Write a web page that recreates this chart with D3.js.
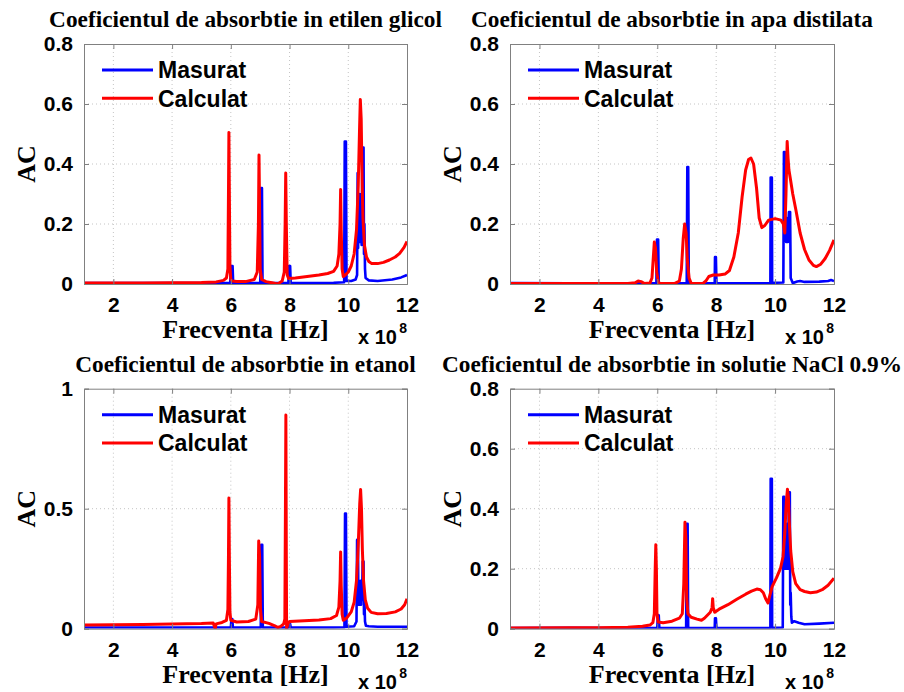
<!DOCTYPE html>
<html><head><meta charset="utf-8">
<script src="https://cdn.jsdelivr.net/npm/d3@7"></script>
<style>html,body{margin:0;padding:0;background:#fff;}svg{display:block;}</style>
</head><body>
<svg id="chart" width="904" height="692"></svg>
<script>
// ---------- DATA (frequency in units of 1e8 Hz, AC value) ----------
const titles = [
  "Coeficientul de absorbtie in etilen glicol",
  "Coeficientul de absorbtie in apa distilata",
  "Coeficientul de absorbtie in etanol",
  "Coeficientul de absorbtie in solutie NaCl 0.9%"
];
const seriesNames = ["Masurat", "Calculat"];
const xTicks = [2, 4, 6, 8, 10, 12];
const yTicksA = [0, 0.2, 0.4, 0.6, 0.8];
const yTicksB = [0, 0.5, 1];
const yMaxes = [0.8, 0.8, 1, 0.8];

const etilenMasurat = [[1,0.003],[3,0.003],[5,0.003],[5.98,0.003],[6.0,0.06],[6.06,0.06],[6.08,0.003],[7.0,0.003],[7.02,0.06],[7.04,0.32],[7.06,0.32],[7.08,0.003],[7.96,0.003],[7.98,0.06],[8.02,0.06],[8.04,0.003],[9.0,0.003],[9.5,0.004],[9.86,0.006],[9.88,0.475],[9.92,0.475],[9.94,0.01],[10.1,0.01],[10.25,0.015],[10.3,0.03],[10.32,0.37],[10.335,0.12],[10.35,0.25],[10.365,0.15],[10.38,0.3],[10.395,0.14],[10.41,0.28],[10.425,0.15],[10.44,0.3],[10.455,0.13],[10.47,0.3],[10.49,0.455],[10.52,0.455],[10.535,0.1],[10.55,0.2],[10.57,0.05],[10.59,0.02],[10.7,0.012],[11,0.01],[11.5,0.015],[11.8,0.022],[12,0.03]];
const etilenCalculat = [[1,0.003],[2,0.003],[3,0.003],[4,0.004],[5,0.005],[5.5,0.007],[5.75,0.012],[5.85,0.02],[5.9,0.05],[5.92,0.3],[5.935,0.505],[5.95,0.3],[5.97,0.06],[6.0,0.015],[6.05,0.01],[6.2,0.008],[6.5,0.008],[6.8,0.015],[6.9,0.04],[6.94,0.2],[6.96,0.43],[6.98,0.25],[7.0,0.05],[7.05,0.015],[7.2,0.008],[7.4,0.004],[7.6,0.0],[7.75,0.01],[7.82,0.04],[7.85,0.2],[7.87,0.37],[7.89,0.2],[7.92,0.03],[7.97,0.018],[8.2,0.02],[8.6,0.025],[9.0,0.03],[9.3,0.035],[9.5,0.042],[9.62,0.06],[9.68,0.1],[9.72,0.2],[9.74,0.315],[9.76,0.18],[9.79,0.05],[9.83,0.025],[9.9,0.03],[10.0,0.04],[10.1,0.06],[10.2,0.1],[10.28,0.18],[10.34,0.33],[10.38,0.5],[10.41,0.615],[10.44,0.55],[10.47,0.35],[10.5,0.22],[10.55,0.13],[10.62,0.09],[10.7,0.075],[10.8,0.068],[11.0,0.068],[11.2,0.072],[11.4,0.08],[11.6,0.09],[11.75,0.102],[11.9,0.122],[12,0.142]];

const apaMasurat = [[1,0.003],[3,0.002],[5,0.002],[5.97,0.002],[5.99,0.148],[6.03,0.148],[6.05,0.002],[7.0,0.002],[7.02,0.39],[7.05,0.39],[7.07,0.002],[7.95,0.002],[7.96,0.09],[7.99,0.09],[8.01,0.002],[9.0,0.002],[9.84,0.003],[9.85,0.355],[9.89,0.355],[9.9,0.004],[10.28,0.005],[10.3,0.44],[10.33,0.44],[10.345,0.15],[10.36,0.22],[10.375,0.14],[10.39,0.22],[10.405,0.15],[10.42,0.22],[10.435,0.14],[10.45,0.2],[10.47,0.24],[10.51,0.24],[10.53,0.02],[10.6,0.003],[10.75,0.008],[10.85,0.01],[11.0,0.007],[11.5,0.008],[11.8,0.01],[11.9,0.013],[12,0.01]];
const apaCalculat = [[1,0.002],[3,0.002],[5,0.002],[5.25,0.004],[5.35,0.01],[5.45,0.008],[5.55,0.002],[5.75,0.003],[5.82,0.02],[5.86,0.08],[5.9,0.14],[5.94,0.12],[5.98,0.04],[6.04,0.005],[6.1,0.002],[6.6,0.002],[6.75,0.01],[6.82,0.05],[6.88,0.15],[6.93,0.2],[6.98,0.17],[7.02,0.08],[7.08,0.02],[7.15,0.002],[7.55,0.002],[7.65,0.01],[7.75,0.025],[7.9,0.03],[8.1,0.03],[8.3,0.033],[8.45,0.045],[8.6,0.09],[8.75,0.17],[8.88,0.29],[9.0,0.38],[9.1,0.415],[9.18,0.42],[9.27,0.4],[9.37,0.32],[9.46,0.22],[9.55,0.188],[9.65,0.195],[9.78,0.213],[10.0,0.218],[10.2,0.213],[10.28,0.2],[10.33,0.17],[10.37,0.3],[10.41,0.475],[10.44,0.42],[10.47,0.38],[10.52,0.35],[10.6,0.3],[10.7,0.25],[10.85,0.17],[11.0,0.115],[11.15,0.08],[11.3,0.062],[11.4,0.058],[11.55,0.066],[11.7,0.085],[11.85,0.112],[12,0.147]];

const etanolMasurat = [[1,0.005],[3,0.005],[5,0.005],[6.0,0.005],[6.02,0.04],[6.05,0.04],[6.07,0.005],[7.02,0.005],[7.04,0.35],[7.07,0.35],[7.09,0.005],[7.97,0.005],[7.99,0.02],[8.02,0.02],[8.04,0.005],[9.5,0.005],[9.87,0.006],[9.89,0.48],[9.92,0.48],[9.94,0.008],[10.2,0.01],[10.28,0.03],[10.3,0.37],[10.33,0.37],[10.345,0.1],[10.36,0.2],[10.375,0.1],[10.39,0.18],[10.405,0.1],[10.42,0.2],[10.435,0.1],[10.45,0.2],[10.47,0.12],[10.49,0.28],[10.52,0.28],[10.535,0.06],[10.55,0.12],[10.57,0.03],[10.6,0.012],[10.7,0.01],[11,0.008],[12,0.008]];
const etanolCalculat = [[1,0.015],[2,0.016],[3,0.018],[4,0.02],[5,0.022],[5.4,0.024],[5.44,0.01],[5.47,0.0],[5.5,0.02],[5.7,0.026],[5.85,0.035],[5.9,0.08],[5.92,0.3],[5.935,0.545],[5.95,0.3],[5.97,0.07],[6.0,0.035],[6.2,0.028],[6.6,0.03],[6.85,0.04],[6.92,0.1],[6.95,0.365],[6.98,0.3],[7.01,0.08],[7.05,0.03],[7.3,0.022],[7.5,0.012],[7.6,0.005],[7.7,0.01],[7.8,0.02],[7.84,0.04],[7.86,0.5],[7.875,0.89],[7.89,0.3],[7.9,0.0],[7.94,0.02],[8.0,0.03],[8.5,0.033],[9.0,0.036],[9.4,0.042],[9.6,0.055],[9.68,0.09],[9.72,0.2],[9.74,0.32],[9.76,0.18],[9.79,0.06],[9.83,0.035],[9.95,0.045],[10.1,0.07],[10.2,0.11],[10.28,0.2],[10.34,0.35],[10.39,0.52],[10.42,0.58],[10.45,0.5],[10.48,0.33],[10.52,0.2],[10.58,0.12],[10.66,0.085],[10.78,0.068],[11.0,0.062],[11.3,0.063],[11.6,0.07],[11.8,0.082],[11.92,0.1],[12,0.125]];

const naclMasurat = [[1,0.002],[3,0.003],[5,0.002],[6.0,0.002],[6.02,0.045],[6.05,0.045],[6.07,0.002],[6.98,0.002],[7.0,0.35],[7.03,0.35],[7.05,0.002],[7.95,0.002],[7.96,0.035],[7.99,0.035],[8.01,0.002],[9.5,0.002],[9.84,0.003],[9.85,0.5],[9.89,0.5],[9.9,0.003],[10.26,0.004],[10.28,0.44],[10.31,0.44],[10.325,0.2],[10.34,0.3],[10.355,0.2],[10.37,0.32],[10.385,0.2],[10.4,0.35],[10.415,0.22],[10.43,0.3],[10.445,0.2],[10.47,0.455],[10.5,0.455],[10.515,0.08],[10.53,0.12],[10.55,0.04],[10.57,0.02],[10.65,0.025],[10.8,0.02],[11,0.015],[11.5,0.017],[12,0.02]];
const naclCalculat = [[1,0.002],[3,0.003],[4,0.003],[5,0.005],[5.5,0.008],[5.75,0.012],[5.85,0.02],[5.9,0.05],[5.93,0.2],[5.95,0.28],[5.97,0.2],[5.99,0.05],[6.03,0.022],[6.2,0.02],[6.5,0.025],[6.75,0.035],[6.85,0.05],[6.9,0.15],[6.94,0.355],[6.97,0.3],[7.0,0.1],[7.04,0.05],[7.15,0.038],[7.35,0.032],[7.5,0.028],[7.6,0.035],[7.7,0.045],[7.8,0.055],[7.86,0.07],[7.88,0.1],[7.9,0.07],[7.95,0.055],[8.1,0.065],[8.4,0.08],[8.7,0.098],[9.0,0.115],[9.2,0.125],[9.38,0.132],[9.5,0.13],[9.6,0.12],[9.68,0.1],[9.76,0.086],[9.82,0.11],[9.9,0.14],[10.05,0.17],[10.18,0.2],[10.27,0.24],[10.33,0.32],[10.38,0.42],[10.42,0.465],[10.45,0.44],[10.48,0.36],[10.53,0.26],[10.6,0.19],[10.7,0.15],[10.85,0.13],[11.0,0.124],[11.2,0.12],[11.4,0.122],[11.6,0.13],[11.8,0.145],[12,0.168]];

// ---------- LAYOUT ----------
const panels = [
  {title: titles[0], meas: etilenMasurat, calc: etilenCalculat, yMax: yMaxes[0], yTicks: yTicksA, x0: 84,  x1: 407, y0: 44,    y1: 284},
  {title: titles[1], meas: apaMasurat,    calc: apaCalculat,    yMax: yMaxes[1], yTicks: yTicksA, x0: 510, x1: 834, y0: 44,    y1: 284},
  {title: titles[2], meas: etanolMasurat, calc: etanolCalculat, yMax: yMaxes[2], yTicks: yTicksB, x0: 84,  x1: 407, y0: 388.7, y1: 628.7},
  {title: titles[3], meas: naclMasurat,   calc: naclCalculat,   yMax: yMaxes[3], yTicks: yTicksA, x0: 510, x1: 834, y0: 388.7, y1: 628.7}
];
const colors = ["#0000ff", "#ff0000"];
const serif = "'Liberation Serif', 'Times New Roman', serif";
const sans = "'Liberation Sans', Arial, sans-serif";
const axisColor = "#808080";

const svg = d3.select("#chart");

panels.forEach((p, i) => {
  const x = d3.scaleLinear().domain([1, 12]).range([p.x0, p.x1]);
  const y = d3.scaleLinear().domain([0, p.yMax]).range([p.y1, p.y0]);
  const g = svg.append("g");
  const w = p.x1 - p.x0, h = p.y1 - p.y0;

  // grid
  g.append("g").selectAll("line").data(xTicks.slice(0, -1)).join("line")
    .attr("x1", d => x(d)).attr("x2", d => x(d)).attr("y1", p.y0).attr("y2", p.y1)
    .attr("stroke", "#c4c4c4").attr("stroke-width", 1).attr("stroke-dasharray", "1,3");
  g.append("g").selectAll("line").data(p.yTicks.slice(1, -1)).join("line")
    .attr("x1", p.x0).attr("x2", p.x1).attr("y1", d => y(d)).attr("y2", d => y(d))
    .attr("stroke", "#c4c4c4").attr("stroke-width", 1).attr("stroke-dasharray", "1,3");

  // clip
  const clipId = "clip" + i;
  svg.append("clipPath").attr("id", clipId).append("rect")
    .attr("x", p.x0).attr("y", p.y0 - 2).attr("width", w).attr("height", h + 2);

  const line = d3.line().x(d => x(d[0])).y(d => y(d[1]));
  g.append("path").datum(p.meas).attr("d", line).attr("fill", "none")
    .attr("stroke", colors[0]).attr("stroke-width", 2.6).attr("stroke-linejoin", "round")
    .attr("clip-path", `url(#${clipId})`);
  g.append("path").datum(p.calc).attr("d", line).attr("fill", "none")
    .attr("stroke", colors[1]).attr("stroke-width", 3).attr("stroke-linejoin", "round")
    .attr("clip-path", `url(#${clipId})`);

  // axes (inward ticks on all sides)
  const fmt = d => d3.format("~g")(d);
  const ax = [
    d3.axisBottom(x).tickValues(xTicks).tickSize(-5).tickPadding(13).tickFormat(d3.format("d")),
    d3.axisTop(x).tickValues(xTicks).tickSize(-5).tickFormat(""),
    d3.axisLeft(y).tickValues(p.yTicks).tickSize(-5).tickPadding(11).tickFormat(fmt),
    d3.axisRight(y).tickValues(p.yTicks).tickSize(-5).tickFormat("")
  ];
  const tr = [`translate(0,${p.y1})`, `translate(0,${p.y0})`, `translate(${p.x0},0)`, `translate(${p.x1},0)`];
  ax.forEach((a, k) => {
    const ag = g.append("g").attr("transform", tr[k]).call(a);
    ag.select(".domain").attr("stroke", axisColor).attr("stroke-width", 1);
    ag.selectAll(".tick line").attr("stroke", axisColor);
    ag.selectAll(".tick text").attr("fill", "#000").attr("font-family", sans)
      .attr("font-weight", "bold").attr("font-size", 21);
  });

  // title
  g.append("text").attr("x", (p.x0 + p.x1) / 2).attr("y", p.y0 - 17)
    .attr("text-anchor", "middle").attr("font-family", serif).attr("font-weight", "bold")
    .attr("font-size", 23.3).text(p.title);
  // x label
  g.append("text").attr("x", (p.x0 + p.x1) / 2).attr("y", p.y1 + 54)
    .attr("text-anchor", "middle").attr("font-family", serif).attr("font-weight", "bold")
    .attr("font-size", 26).text("Frecventa [Hz]");
  // exponent
  g.append("text").attr("x", p.x1 - 10).attr("y", p.y1 + 60)
    .attr("text-anchor", "end").attr("font-family", sans).attr("font-weight", "bold")
    .attr("font-size", 20).text("x 10");
  g.append("text").attr("x", p.x1).attr("y", p.y1 + 49)
    .attr("text-anchor", "end").attr("font-family", sans).attr("font-weight", "bold")
    .attr("font-size", 14).text("8");
  // y label
  g.append("text").attr("transform", `translate(${p.x0 - 49},${(p.y0 + p.y1) / 2}) rotate(-90)`)
    .attr("text-anchor", "middle").attr("font-family", serif).attr("font-weight", "bold")
    .attr("font-size", 26).text("AC");

  // legend
  const leg = g.append("g");
  seriesNames.forEach((name, k) => {
    const ly = p.y0 + 26 + k * 28.3;
    leg.append("line").attr("x1", p.x0 + 18).attr("x2", p.x0 + 69).attr("y1", ly).attr("y2", ly)
      .attr("stroke", colors[k]).attr("stroke-width", 3);
    leg.append("text").attr("x", p.x0 + 74).attr("y", ly + 8.3)
      .attr("font-family", sans).attr("font-weight", "bold").attr("font-size", 23).text(name);
  });
});
</script>
</body></html>
